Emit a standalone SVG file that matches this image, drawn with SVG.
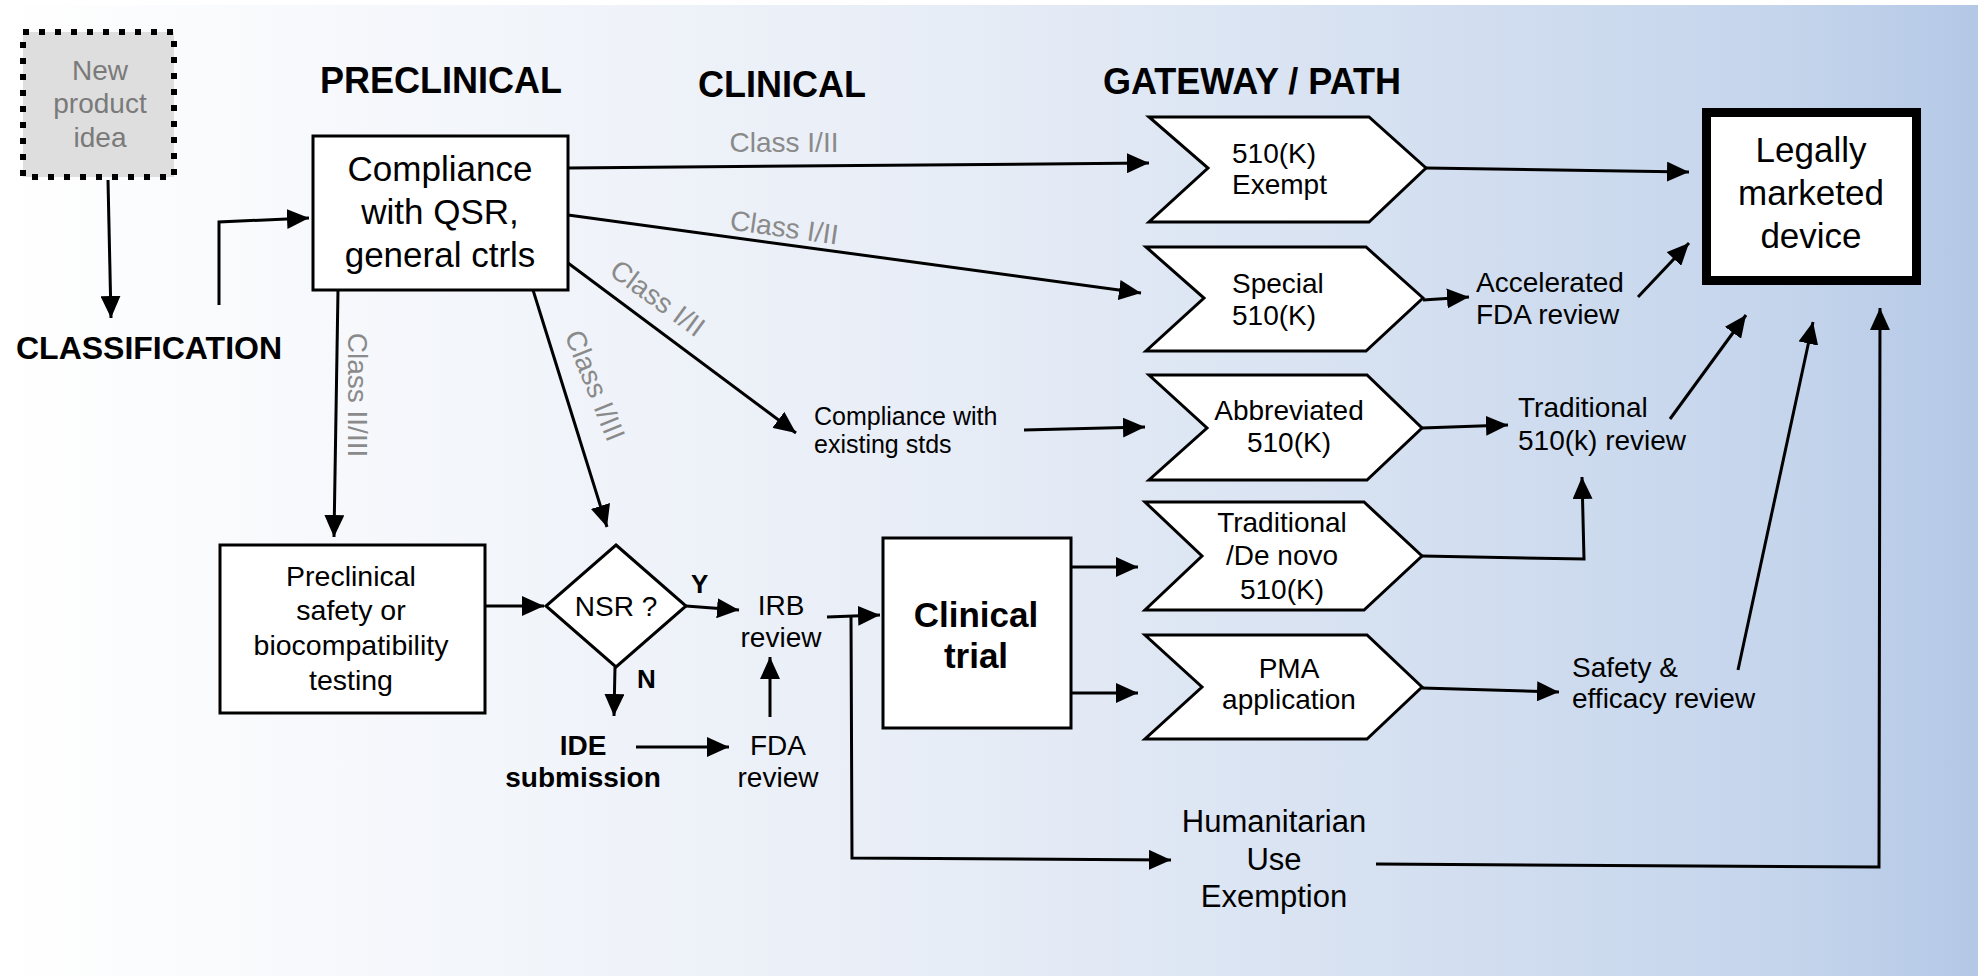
<svg xmlns="http://www.w3.org/2000/svg" width="1978" height="976" viewBox="0 0 1978 976">
<defs>
<linearGradient id="bg" x1="0" y1="0" x2="1" y2="0">
<stop offset="0" stop-color="#ffffff"/>
<stop offset="0.1" stop-color="#fafbfd"/>
<stop offset="0.5" stop-color="#e6ecf6"/>
<stop offset="0.9" stop-color="#c5d5ec"/>
<stop offset="1" stop-color="#b4c8e6"/>
</linearGradient>
<marker id="ah" markerUnits="userSpaceOnUse" markerWidth="22" markerHeight="20" refX="22" refY="10" orient="auto">
<path d="M0,0 L22,10 L0,20 z" fill="#000"/>
</marker>
<style>
text{font-family:"Liberation Sans",Arial,sans-serif;fill:#000}
.hdr{font-size:36px;font-weight:bold}
.t28{font-size:28px}
.t25{font-size:25px}
.t35{font-size:35px}
.c{text-anchor:middle}
.b{font-weight:bold}
.lbl{font-size:28px;fill:#8a8a8a}
.box{fill:#fff;stroke:#000;stroke-width:3}
.cn{fill:none;stroke:#000;stroke-width:3;marker-end:url(#ah)}
</style>
</defs>
<rect x="0" y="0" width="1978" height="976" fill="#fff"/>
<rect x="0" y="5" width="1978" height="971" fill="url(#bg)"/>

<g id="headers">
<text class="hdr c" x="441" y="93">PRECLINICAL</text>
<text class="hdr c" x="782" y="97">CLINICAL</text>
<text class="hdr c" x="1252" y="94">GATEWAY / PATH</text>
</g>

<g id="new-idea">
<rect x="23" y="32" width="151" height="145" fill="#dedede" stroke="#000" stroke-width="6" stroke-dasharray="6 10"/>
<text class="t28 c" x="100" y="80" style="fill:#7a7a7a">New</text>
<text class="t28 c" x="100" y="113" style="fill:#7a7a7a">product</text>
<text class="t28 c" x="100" y="147" style="fill:#7a7a7a">idea</text>
</g>

<g id="classification">
<text class="c b" style="font-size:32px" x="149" y="359">CLASSIFICATION</text>
</g>

<g id="compliance-qsr">
<rect class="box" x="313" y="136" width="255" height="154"/>
<text class="t35 c" x="440" y="181">Compliance</text>
<text class="t35 c" x="440" y="224">with QSR,</text>
<text class="t35 c" x="440" y="267">general ctrls</text>
</g>

<g id="preclinical-testing">
<rect class="box" x="220" y="545" width="265" height="168"/>
<text class="c" style="font-size:28.5px" x="351" y="586">Preclinical</text>
<text class="c" style="font-size:28.5px" x="351" y="620">safety or</text>
<text class="c" style="font-size:28.5px" x="351" y="655">biocompatibility</text>
<text class="c" style="font-size:28.5px" x="351" y="690">testing</text>
</g>

<g id="nsr">
<polygon class="box" points="616,545 686,606 616,667 546,606"/>
<text class="t28 c" x="616" y="616">NSR ?</text>
</g>

<g id="irb-review">
<text class="t28 c" x="781" y="615">IRB</text>
<text class="t28 c" x="781" y="647">review</text>
</g>

<g id="ide-submission">
<text class="t28 c b" x="583" y="755">IDE</text>
<text class="t28 c b" x="583" y="787">submission</text>
</g>

<g id="fda-review">
<text class="t28 c" x="778" y="755">FDA</text>
<text class="t28 c" x="778" y="787">review</text>
</g>

<g id="clinical-trial">
<rect class="box" x="883" y="538" width="188" height="190"/>
<text class="t35 c b" x="976" y="627">Clinical</text>
<text class="t35 c b" x="976" y="668">trial</text>
</g>

<g id="exempt-510k">
<polygon class="box" points="1149,117 1369,117 1426,168 1369,222 1149,222 1208,168"/>
<text class="t28" x="1232" y="163">510(K)</text>
<text class="t28" x="1232" y="194">Exempt</text>
</g>

<g id="special-510k">
<polygon class="box" points="1146,247 1366,247 1423,298 1366,351 1146,351 1204,298"/>
<text class="t28" x="1232" y="293">Special</text>
<text class="t28" x="1232" y="325">510(K)</text>
</g>

<g id="abbreviated-510k">
<polygon class="box" points="1149,375 1367,375 1422,428 1367,480 1149,480 1207,428"/>
<text class="t28 c" x="1289" y="420">Abbreviated</text>
<text class="t28 c" x="1289" y="452">510(K)</text>
</g>

<g id="traditional-510k">
<polygon class="box" points="1145,502 1364,502 1422,556 1364,610 1145,610 1202,556"/>
<text class="t28 c" x="1282" y="532">Traditional</text>
<text class="t28 c" x="1282" y="565">/De novo</text>
<text class="t28 c" x="1282" y="599">510(K)</text>
</g>

<g id="pma-application">
<polygon class="box" points="1145,635 1367,635 1422,687 1367,739 1145,739 1202,687"/>
<text class="t28 c" x="1289" y="678">PMA</text>
<text class="t28 c" x="1289" y="709">application</text>
</g>

<g id="compliance-stds">
<text class="t25" x="814" y="425">Compliance with</text>
<text class="t25" x="814" y="453">existing stds</text>
</g>

<g id="accelerated-review">
<text class="t28" x="1476" y="292">Accelerated</text>
<text class="t28" x="1476" y="324">FDA review</text>
</g>

<g id="traditional-review">
<text class="t28" x="1518" y="417">Traditional</text>
<text class="t28" x="1518" y="450">510(k) review</text>
</g>

<g id="safety-review">
<text class="t28" x="1572" y="677">Safety &amp;</text>
<text class="t28" x="1572" y="708">efficacy review</text>
</g>

<g id="hue">
<text class="c" style="font-size:31px" x="1274" y="832">Humanitarian</text>
<text class="c" style="font-size:31px" x="1274" y="870">Use</text>
<text class="c" style="font-size:31px" x="1274" y="907">Exemption</text>
</g>

<g id="legally-marketed">
<rect x="1706.5" y="112.5" width="210" height="168" fill="#fff" stroke="#000" stroke-width="9"/>
<text class="t35 c" x="1811" y="162">Legally</text>
<text class="t35 c" x="1811" y="205">marketed</text>
<text class="t35 c" x="1811" y="248">device</text>
</g>

<g id="connectors">
<path class="cn" d="M108,180 L111,318"/>
<path class="cn" d="M219,305 L219,222 L309,218"/>
<path class="cn" d="M568,168 L1149,163"/>
<path class="cn" d="M568,215 L1141,293"/>
<path class="cn" d="M568,263 L796,433"/>
<path class="cn" d="M338,290 L334,537"/>
<path class="cn" d="M533,290 L607,527"/>
<path class="cn" d="M485,606 L544,606"/>
<path class="cn" d="M686,606 L739,610"/>
<path class="cn" d="M615,667 L614,716"/>
<path class="cn" d="M636,747 L729,747"/>
<path class="cn" d="M770,717 L770,657"/>
<path class="cn" d="M827,617 L880,615"/>
<path class="cn" d="M851,616 L852,858 L1171,860"/>
<path class="cn" d="M1071,567 L1138,567"/>
<path class="cn" d="M1071,693 L1138,693"/>
<path class="cn" d="M1426,168 L1689,172"/>
<path class="cn" d="M1423,300 L1469,297"/>
<path class="cn" d="M1638,297 L1689,243"/>
<path class="cn" d="M1024,430 L1145,427"/>
<path class="cn" d="M1422,428 L1508,425"/>
<path class="cn" d="M1670,419 L1746,315"/>
<path class="cn" d="M1422,556 L1584,559 L1582,477"/>
<path class="cn" d="M1422,688 L1559,692"/>
<path class="cn" d="M1738,670 L1813,322"/>
<path class="cn" d="M1376,864 L1879,867 L1880,308"/>
<text class="lbl c" x="784" y="152">Class I/II</text>
<text class="lbl c" transform="translate(783,237) rotate(8)">Class I/II</text>
<text class="lbl c" transform="translate(652,306) rotate(36)">Class I/II</text>
<text class="lbl c" transform="translate(348,395) rotate(90)">Class II/III</text>
<text class="lbl c" transform="translate(586,389) rotate(68)">Class I/III</text>
<text class="b" style="font-size:26px" x="691" y="593">Y</text>
<text class="b" style="font-size:26px" x="637" y="688">N</text>
</g>
</svg>
